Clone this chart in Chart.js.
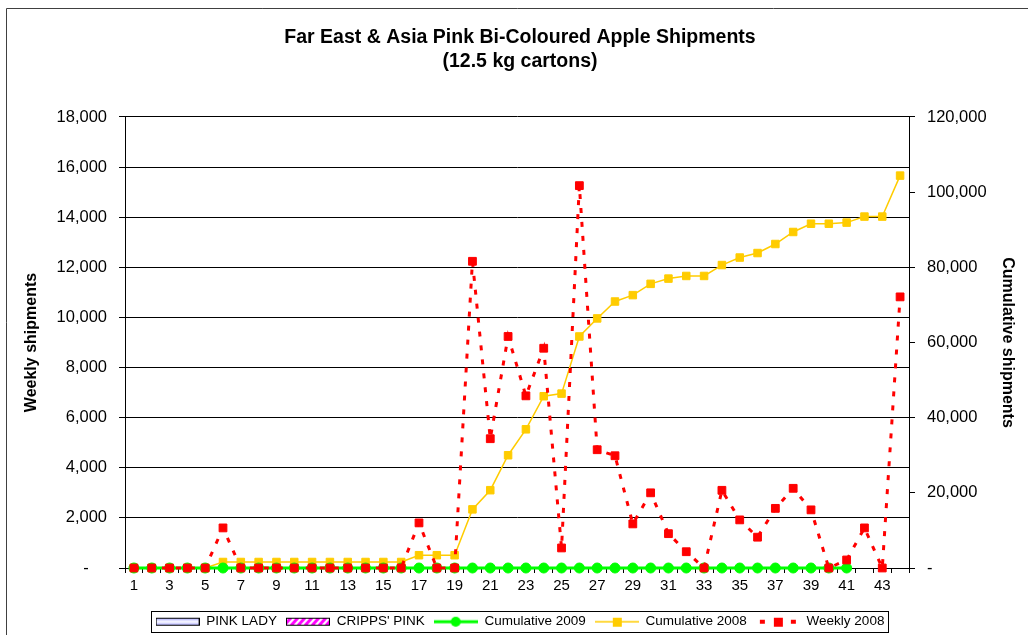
<!DOCTYPE html>
<html>
<head>
<meta charset="utf-8">
<title>Far East &amp; Asia Pink Bi-Coloured Apple Shipments</title>
<script src="https://cdn.jsdelivr.net/npm/chart.js@4.4.1/dist/chart.umd.min.js"></script>
<style>
    html, body { margin: 0; padding: 0; background: #fff; }
    #wrap { width: 1028px; height: 635px; }
</style>
</head>
<body>
<div id="wrap"><canvas id="ShipmentsChart" width="1028" height="635"></canvas></div>
<script>
const weeks = ["1", "2", "3", "4", "5", "6", "7", "8", "9", "10", "11",
    "12", "13", "14", "15", "16", "17", "18", "19", "20", "21", "22",
    "23", "24", "25", "26", "27", "28", "29", "30", "31", "32", "33",
    "34", "35", "36", "37", "38", "39", "40", "41", "42", "43", "44"];

// 12.5 kg cartons per week
const weekly2008 = [0, 0, 0, 0, 0, 1600, 0, 0, 0, 0, 0,
    0, 0, 0, 0, 0, 1800, 0, 0, 12240, 5160, 9240,
    6870, 8770, 800, 15260, 4720, 4480, 1760, 3000, 1370, 650, 0,
    3100, 1920, 1230, 2380, 3180, 2320, 0, 320, 1600, 0, 10820];

const cumulative2008 = [0, 0, 0, 0, 0, 1600, 1600, 1600, 1600, 1600, 1600,
    1600, 1600, 1600, 1600, 1600, 3400, 3400, 3400, 15600, 20700, 30000,
    36900, 45700, 46400, 61600, 66400, 70900, 72600, 75600, 77000, 77700, 77700,
    80600, 82600, 83800, 86200, 89400, 91600, 91600, 91900, 93500, 93500, 104400];

const cumulative2009 = [0, 0, 0, 0, 0, 0, 0, 0, 0, 0, 0,
    0, 0, 0, 0, 0, 0, 0, 0, 0, 0, 0,
    0, 0, 0, 0, 0, 0, 0, 0, 0, 0, 0,
    0, 0, 0, 0, 0, 0, 0, 0];

const pinkLady = [];
const crippsPink = [];

const weeklyMax = 18000;
const weeklyStep = 2000;
const cumulativeMax = 120000;
const cumulativeStep = 20000;

function makeIcon(draw) {
    const c = document.createElement("canvas");
    c.width = 44;
    c.height = 14;
    draw(c.getContext("2d"));
    return c;
}

const legendIcons = [
    makeIcon(g => {
        const grad = g.createLinearGradient(0, 3, 0, 11);
        grad.addColorStop(0, "#9999ff");
        grad.addColorStop(0.5, "#ffffff");
        grad.addColorStop(1, "#9999ff");
        g.fillStyle = grad;
        g.fillRect(1, 3, 42, 8);
        g.strokeStyle = "#000";
        g.lineWidth = 1;
        g.strokeRect(0.5, 3.5, 43, 7);
    }),
    makeIcon(g => {
        g.fillStyle = "#fff";
        g.fillRect(1, 3, 42, 8);
        g.save();
        g.beginPath();
        g.rect(1, 3, 42, 8);
        g.clip();
        g.strokeStyle = "#ff00ff";
        g.lineWidth = 3;
        for (let i = -10; i < 54; i += 7) {
            g.beginPath();
            g.moveTo(i, 12);
            g.lineTo(i + 9, 2);
            g.stroke();
        }
        g.restore();
        g.strokeStyle = "#000";
        g.lineWidth = 1;
        g.strokeRect(0.5, 3.5, 43, 7);
    }),
    makeIcon(g => {
        g.strokeStyle = "#00ff00";
        g.lineWidth = 3;
        g.beginPath();
        g.moveTo(0, 7);
        g.lineTo(44, 7);
        g.stroke();
        g.fillStyle = "#00ff00";
        g.beginPath();
        g.arc(22, 7, 5, 0, Math.PI * 2);
        g.fill();
    }),
    makeIcon(g => {
        g.strokeStyle = "#ffcc00";
        g.lineWidth = 1.5;
        g.beginPath();
        g.moveTo(0, 7);
        g.lineTo(44, 7);
        g.stroke();
        g.fillStyle = "#ffcc00";
        g.fillRect(18, 3, 9, 9);
    }),
    makeIcon(g => {
        g.fillStyle = "#ff0000";
        g.fillRect(4, 5, 5, 4);
        g.fillRect(35, 5, 5, 4);
        g.fillRect(18, 3, 9, 9);
    })
];

const framePlugin = {
    id: "frame",
    beforeDraw(chart) {
        const c = chart.ctx;
        c.save();
        c.fillStyle = "#fff";
        c.fillRect(0, 0, chart.width, chart.height);
        c.strokeStyle = "#404040";
        c.lineWidth = 1;
        c.beginPath();
        c.moveTo(6.5, chart.height + 5);
        c.lineTo(6.5, 8.5);
        c.lineTo(chart.width + 5, 8.5);
        c.stroke();
        c.restore();
    },
    afterDraw(chart) {
        const boxes = chart.legend.legendHitBoxes;
        if (!boxes || !boxes.length) return;
        const first = boxes[0];
        const last = boxes[boxes.length - 1];
        const mid = first.top + first.height / 2;
        const c = chart.ctx;
        c.save();
        c.strokeStyle = "#000";
        c.lineWidth = 1;
        const left = Math.round(first.left - 5) + 0.5;
        const right = Math.round(last.left + last.width + 4) + 0.5;
        const top = Math.round(mid - 11) + 0.5;
        c.strokeRect(left, top, right - left, 21);
        c.restore();
    }
};

Chart.defaults.font.family = "'Liberation Sans', Arial, sans-serif";
Chart.defaults.color = "#000";

const ctx = document.getElementById("ShipmentsChart").getContext("2d");

const chart = new Chart(ctx, {
    type: "bar",
    data: {
        labels: weeks,
        datasets: [
            {
                label: "PINK LADY",
                data: pinkLady,
                backgroundColor: "#9999ff",
                borderColor: "#000",
                borderWidth: 1,
                yAxisID: "y",
                order: 4
            },
            {
                label: "CRIPPS' PINK",
                data: crippsPink,
                backgroundColor: "#ff00ff",
                borderColor: "#000",
                borderWidth: 1,
                yAxisID: "y",
                order: 3
            },
            {
                type: "line",
                label: "Cumulative 2009",
                data: cumulative2009,
                yAxisID: "y1",
                clip: false,
                borderColor: "#00ff00",
                backgroundColor: "#00ff00",
                borderWidth: 3,
                pointStyle: "circle",
                pointRadius: 5,
                pointBorderWidth: 1,
                order: 1
            },
            {
                type: "line",
                label: "Cumulative 2008",
                data: cumulative2008,
                yAxisID: "y1",
                clip: false,
                borderColor: "#ffcc00",
                backgroundColor: "#ffcc00",
                borderWidth: 1.5,
                pointStyle: "rect",
                pointRadius: 5.3,
                pointBorderWidth: 1,
                order: 2
            },
            {
                type: "line",
                label: "Weekly 2008",
                data: weekly2008,
                yAxisID: "y",
                clip: false,
                borderColor: "#ff0000",
                backgroundColor: "#ff0000",
                borderWidth: 3,
                borderDash: [5, 9],
                pointStyle: "rect",
                pointRadius: 5.5,
                pointBorderWidth: 1,
                order: 0
            }
        ]
    },
    options: {
        responsive: false,
        animation: false,
        events: [],
        layout: { padding: { left: 12 } },
        plugins: {
            title: {
                display: true,
                text: ["Far East & Asia Pink Bi-Coloured Apple Shipments", "(12.5 kg cartons)"],
                color: "#000",
                font: { size: 19.5, weight: "bold", lineHeight: 1.23 },
                padding: { top: 26, bottom: 43 }
            },
            legend: {
                position: "bottom",
                maxHeight: 29,
                labels: {
                    usePointStyle: true,
                    pointStyleWidth: 44,
                    padding: 9,
                    color: "#000",
                    font: { size: 13.5 },
                    sort: (a, b) => a.datasetIndex - b.datasetIndex,
                    generateLabels: c => Chart.defaults.plugins.legend.labels.generateLabels(c).map(item => {
                        item.pointStyle = legendIcons[item.datasetIndex];
                        return item;
                    })
                }
            },
            tooltip: { enabled: false }
        },
        scales: {
            x: {
                offset: true,
                grid: {
                    offset: true,
                    drawOnChartArea: false,
                    tickLength: 5,
                    color: "#000"
                },
                border: { color: "#000" },
                ticks: {
                    autoSkip: false,
                    maxRotation: 0,
                    padding: 4,
                    font: { size: 15 },
                    callback: (value, index) => index % 2 === 0 ? weeks[index] : ""
                },
                afterFit: scale => { scale.height = 38; }
            },
            y: {
                position: "left",
                min: 0,
                max: weeklyMax,
                ticks: {
                    stepSize: weeklyStep,
                    padding: 12,
                    font: { size: 16.5 },
                    callback: v => v === 0 ? "-    " : v.toLocaleString("en-US")
                },
                grid: { color: "#000", tickLength: 6 },
                border: { color: "#000" },
                title: {
                    display: true,
                    text: "Weekly shipments",
                    font: { size: 16, weight: "bold" },
                    padding: { top: 10, bottom: 0 }
                },
                afterFit: scale => { scale.width = 113; }
            },
            y1: {
                position: "right",
                min: 0,
                max: cumulativeMax,
                ticks: {
                    stepSize: cumulativeStep,
                    padding: 12,
                    font: { size: 16.5 },
                    callback: v => v === 0 ? "-" : v.toLocaleString("en-US")
                },
                grid: { drawOnChartArea: false, color: "#000", tickLength: 6 },
                border: { color: "#000" },
                title: {
                    display: true,
                    text: "Cumulative shipments",
                    font: { size: 16, weight: "bold" },
                    padding: { top: 11, bottom: 0 }
                },
                afterFit: scale => { scale.width = 119; }
            }
        }
    },
    plugins: [framePlugin]
});
</script>
</body>
</html>
